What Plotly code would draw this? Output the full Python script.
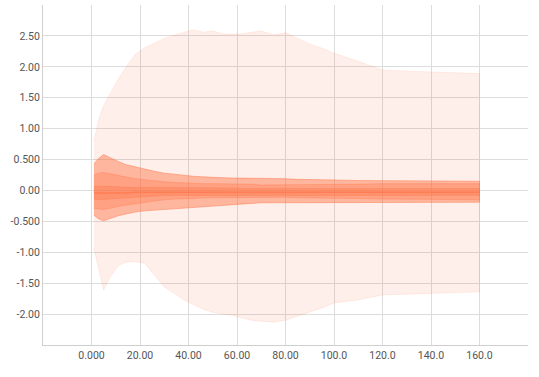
import plotly.graph_objects as go

steps = [1, 3, 5, 8, 11, 14, 18, 22, 26, 30, 34, 38, 42, 46, 50, 54, 58, 62, 66, 70,
         75, 80, 85, 90, 95, 100, 110, 120, 130, 140, 150, 160]

p_max = [0.80, 1.15, 1.37, 1.58, 1.80, 1.98, 2.20, 2.31, 2.39, 2.46, 2.51, 2.55, 2.60, 2.56,
         2.58, 2.53, 2.53, 2.53, 2.56, 2.58, 2.52, 2.55, 2.46, 2.37, 2.30, 2.22, 2.09, 1.95,
         1.93, 1.92, 1.90, 1.89]
p93 = [0.43, 0.52, 0.58, 0.52, 0.47, 0.42, 0.38, 0.34, 0.31, 0.28, 0.26, 0.24, 0.23, 0.22,
       0.21, 0.21, 0.20, 0.20, 0.20, 0.20, 0.19, 0.19, 0.18, 0.18, 0.17, 0.17, 0.16, 0.16,
       0.15, 0.15, 0.15, 0.15]
p84 = [0.25, 0.28, 0.29, 0.27, 0.25, 0.22, 0.19, 0.17, 0.15, 0.14, 0.13, 0.12, 0.12, 0.11,
       0.11, 0.11, 0.10, 0.10, 0.10, 0.09, 0.09, 0.09, 0.09, 0.10, 0.10, 0.10, 0.10, 0.11,
       0.11, 0.11, 0.11, 0.11]
p69 = [0.07, 0.07, 0.07, 0.06, 0.06, 0.05, 0.05, 0.05, 0.04, 0.04, 0.04, 0.04, 0.04, 0.04,
       0.04, 0.04, 0.04, 0.03, 0.03, 0.03, 0.03, 0.03, 0.03, 0.03, 0.03, 0.03, 0.03, 0.03,
       0.03, 0.03, 0.03, 0.03]
p50 = [-0.04, -0.04, -0.05, -0.05, -0.04, -0.04, -0.03, -0.03, -0.03, -0.02, -0.02, -0.02,
       -0.02, -0.02, -0.02, -0.02, -0.02, -0.02, -0.02, -0.02, -0.02, -0.02, -0.02, -0.02,
       -0.02, -0.03, -0.03, -0.03, -0.03, -0.03, -0.03, -0.03]
p31 = [-0.14, -0.15, -0.15, -0.14, -0.13, -0.12, -0.11, -0.10, -0.09, -0.08, -0.08, -0.08,
       -0.07, -0.07, -0.07, -0.07, -0.07, -0.07, -0.07, -0.07, -0.07, -0.07, -0.07, -0.07,
       -0.07, -0.07, -0.08, -0.08, -0.08, -0.08, -0.08, -0.08]
p16 = [-0.29, -0.30, -0.31, -0.29, -0.26, -0.24, -0.22, -0.19, -0.17, -0.15, -0.14, -0.13,
       -0.13, -0.12, -0.12, -0.12, -0.11, -0.11, -0.11, -0.11, -0.11, -0.11, -0.12, -0.12,
       -0.12, -0.13, -0.13, -0.14, -0.14, -0.15, -0.15, -0.15]
p7 = [-0.40, -0.46, -0.49, -0.45, -0.41, -0.38, -0.35, -0.33, -0.31, -0.30, -0.29, -0.28,
      -0.27, -0.26, -0.25, -0.24, -0.23, -0.22, -0.21, -0.20, -0.20, -0.20, -0.19, -0.19,
      -0.19, -0.19, -0.19, -0.19, -0.19, -0.19, -0.19, -0.19]
p_min = [-0.94, -1.29, -1.61, -1.38, -1.22, -1.16, -1.15, -1.18, -1.37, -1.56, -1.66, -1.77,
         -1.85, -1.92, -1.97, -2.00, -2.02, -2.06, -2.10, -2.12, -2.13, -2.10, -2.04, -1.97,
         -1.90, -1.82, -1.77, -1.69, -1.67, -1.66, -1.65, -1.64]

x_tickvals = [-20, 0, 20, 40, 60, 80, 100, 120, 140, 160, 180]
x_ticktext = ["", "0.000", "20.00", "40.00", "60.00", "80.00", "100.0", "120.0", "140.0", "160.0", ""]
y_tickvals = [-2.5, -2.0, -1.5, -1.0, -0.5, 0.0, 0.5, 1.0, 1.5, 2.0, 2.5, 3.0]
y_ticktext = ["", "-2.00", "-1.50", "-1.00", "-0.500", "0.00", "0.500", "1.00", "1.50", "2.00", "2.50", ""]

bands = [
    (p_max, p_min, "rgba(255,112,67,0.11)"),
    (p93, p7, "rgba(255,112,67,0.45)"),
    (p84, p16, "rgba(255,112,67,0.30)"),
    (p69, p31, "rgba(255,112,67,0.30)"),
]

fig = go.Figure()
for upper, lower, color in bands:
    fig.add_trace(go.Scatter(
        x=steps + steps[::-1], y=upper + lower[::-1],
        fill="toself", fillcolor=color, mode="lines",
        line=dict(color=color, width=1), hoverinfo="skip", showlegend=False))
fig.add_trace(go.Scatter(x=steps, y=p50, mode="lines",
                         line=dict(color="rgba(255,112,67,0.6)", width=1.5),
                         showlegend=False))

axis_common = dict(showgrid=True, gridcolor="#dcdcdc", gridwidth=1,
                   showline=True, linecolor="#cfcfcf", linewidth=1,
                   zeroline=False, ticks="", automargin=False,
                   tickfont=dict(family="Roboto", size=10.5, color="#555"))
fig.update_xaxes(range=[-20, 180], tickmode="array", tickvals=x_tickvals,
                 ticktext=x_ticktext, **axis_common)
fig.update_yaxes(range=[-2.5, 3.0], tickmode="array", tickvals=y_tickvals,
                 ticktext=y_ticktext, **axis_common)
fig.update_layout(width=539, height=377, margin=dict(l=43, r=11, t=5, b=32),
                  plot_bgcolor="white", paper_bgcolor="white")
fig.write_html("out.html", config={"displayModeBar": False},
               post_script="document.body.style.margin='0';document.body.style.overflow='hidden';")
